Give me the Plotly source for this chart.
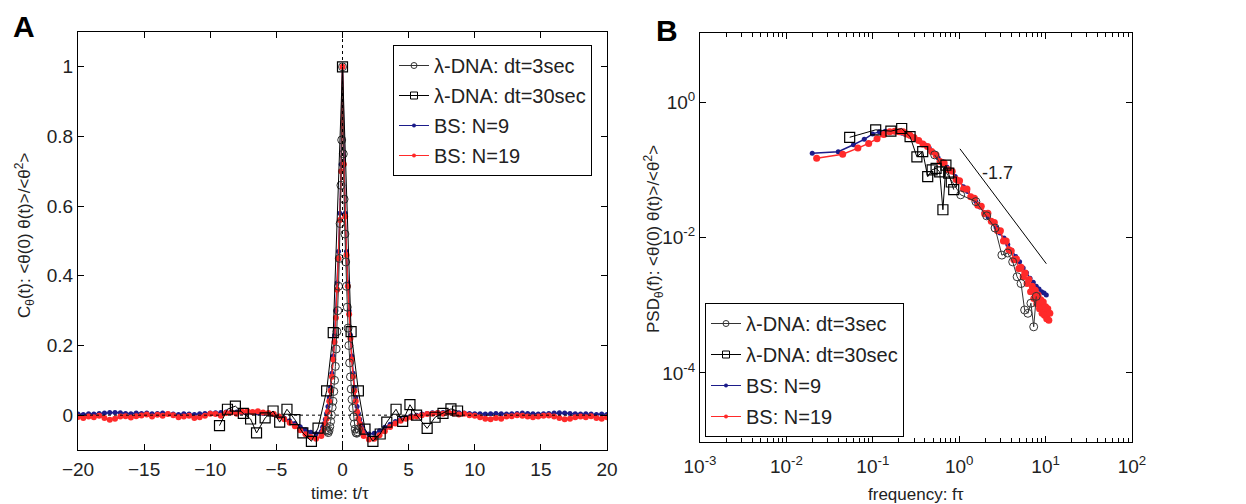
import plotly.graph_objects as go

# ---------------- Panel A data ----------------
t_left = [round(-20.0 + 0.4 * j, 2) for j in range(47)]
t_mid = [round(-1.5 + 0.1 * i, 2) for i in range(31)]
t_right = [round(1.6 + 0.4 * j, 2) for j in range(47)]

red_left = [-0.005,-0.008,-0.004,-0.006,-0.002,-0.008,-0.013,-0.010,-0.004,-0.003,
            -0.007,-0.003,-0.001,0.002,-0.004,0.001,-0.002,0.003,0.000,-0.006,
            -0.004,-0.002,-0.008,-0.006,-0.002,0.004,0.003,-0.002,0.006,0.008,
            0.004,0.010,0.012,0.009,0.011,0.008,0.006,0.003,-0.004,-0.012,
            -0.022,-0.032,-0.043,-0.055,-0.063,-0.068,-0.060]
red_mid = [-0.05,-0.04,-0.025,-0.01,0.01,0.04,0.07,0.11,0.16,0.21,0.28,0.36,0.45,0.56,0.70,
           1.0,
           0.72,0.57,0.46,0.37,0.29,0.22,0.16,0.11,0.07,0.04,0.01,-0.01,-0.025,-0.04,-0.05]
red_right = [-0.060,-0.070,-0.068,-0.058,-0.046,-0.034,-0.024,-0.016,-0.010,-0.006,
             -0.004,0.000,0.003,0.004,0.006,0.004,0.008,0.005,0.002,0.004,
             0.000,-0.002,-0.006,-0.010,-0.012,-0.008,-0.010,-0.004,-0.003,0.000,
             -0.002,-0.004,-0.006,-0.004,-0.002,-0.001,-0.004,-0.008,-0.012,-0.010,
             -0.006,-0.004,-0.006,-0.003,-0.008,-0.010,-0.006]

blue_left = [0.003,0.002,0.004,0.003,0.005,0.006,0.008,0.008,0.007,0.005,
             0.004,0.006,0.005,0.006,0.004,0.005,0.006,0.004,0.003,0.002,
             0.004,0.003,0.002,0.004,0.005,0.006,0.007,0.008,0.009,0.010,
             0.009,0.008,0.008,0.007,0.006,0.005,0.004,0.002,-0.003,-0.009,
             -0.016,-0.024,-0.033,-0.042,-0.049,-0.053,-0.047]
blue_mid = [-0.035,-0.025,-0.012,0.005,0.025,0.05,0.08,0.12,0.17,0.23,0.30,0.38,0.47,0.58,0.72,
            1.0,
            0.72,0.58,0.47,0.38,0.30,0.23,0.17,0.12,0.08,0.05,0.025,0.005,-0.012,-0.025,-0.035]
blue_right = [-0.046,-0.054,-0.052,-0.045,-0.035,-0.026,-0.018,-0.012,-0.006,-0.002,
              0.000,0.003,0.005,0.007,0.008,0.008,0.009,0.008,0.007,0.006,
              0.005,0.004,0.004,0.003,0.004,0.005,0.004,0.003,0.004,0.005,
              0.006,0.005,0.004,0.003,0.004,0.005,0.006,0.007,0.006,0.005,
              0.004,0.003,0.004,0.003,0.002,0.003,0.002]

t_circ = [round(0.06 * i, 2) for i in range(-20, 21)]
circ_corr = [-0.042,-0.046,-0.05,-0.044,-0.033,-0.018,0.0,0.022,0.04,0.068,
             0.10,0.14,0.19,0.24,0.30,0.37,0.45,0.55,0.66,0.79,
             1.0,
             0.75,0.62,0.52,0.44,0.37,0.31,0.25,0.2,0.15,0.11,
             0.075,0.045,0.02,-0.005,-0.025,-0.04,-0.05,-0.052,-0.048,-0.04]

t_sq = [-9.3,-8.7,-8.1,-7.5,-6.95,-6.5,-5.85,-5.25,-4.75,-4.2,-3.6,-3.0,-2.35,-1.85,-1.2,-0.7,
        0.0,
        0.65,1.2,1.7,2.3,2.85,3.35,4.05,4.55,5.1,5.6,6.4,7.0,7.6,8.2,8.7]
sq_corr = [-0.03,0.017,0.026,0.005,-0.011,-0.051,-0.008,0.012,-0.02,0.017,-0.013,-0.051,-0.075,-0.037,0.07,0.237,
           1.0,
           0.24,0.07,-0.04,-0.075,-0.054,-0.02,0.017,-0.018,0.03,0.0,-0.038,-0.006,0.005,0.018,0.012]

# ---------------- Panel B data ----------------
red_freq = [0.0224,0.0448,0.0672,0.0896,0.112,0.134,0.157,0.179,0.202,0.224,0.246,0.269,
            0.30,0.34,0.38,0.43,0.48,0.54,0.60,0.67,0.75,0.83,
            0.92,1.01,1.12,1.23,1.36,1.50,1.64,1.80,1.97,2.15,
            2.35,2.55,2.78,3.0,3.25,3.5,3.75,4.0,4.3,4.6,
            4.9,5.2,5.5,5.8,6.1,6.4,6.7,7.0,7.3,7.6,
            7.9,8.2,8.5,8.8,9.1,9.4,9.7,10.0,10.3,10.6,
            10.9,11.2]
red_psd = [0.148,0.170,0.209,0.245,0.288,0.331,0.363,0.372,0.363,0.363,0.339,0.324,
           0.30,0.27,0.24,0.22,0.186,0.166,0.132,0.126,0.10,0.095,
           0.072,0.069,0.052,0.052,0.040,0.038,0.030,0.029,0.0224,0.0229,
           0.0174,0.0166,0.0126,0.0126,0.0089,0.0089,0.0066,0.0063,0.0047,0.0048,
           0.00347,0.00363,0.00263,0.0030,0.00209,0.0024,0.00158,0.0019,0.00126,0.00166,
           0.00105,0.00141,0.00089,0.0012,0.00076,0.00112,0.00071,0.00095,0.00063,0.00089,
           0.0006,0.00076]

blue_freq = [0.0199,0.0398,0.0597,0.0796,0.0995,0.119,0.139,0.159,0.179,0.199,0.219,0.239,
             0.27,0.31,0.35,0.40,0.45,0.51,0.57,0.64,0.72,0.80,
             0.90,1.00,1.12,1.25,1.40,1.56,1.74,1.94,2.16,2.40,
             2.67,2.97,3.30,3.65,4.05,4.5,5.0,5.5,6.0,6.6,
             7.2,7.8,8.4,9.0,9.6,10.2]
blue_psd = [0.175,0.185,0.234,0.282,0.339,0.363,0.372,0.363,0.363,0.355,0.347,0.331,
            0.316,0.288,0.263,0.234,0.209,0.178,0.151,0.132,0.110,0.0955,
            0.0794,0.0676,0.0562,0.0479,0.0398,0.0339,0.0282,0.0234,0.020,0.017,
            0.0141,0.0117,0.0098,0.0079,0.00646,0.00525,0.00437,0.00355,0.00302,0.00251,
            0.00219,0.00191,0.00174,0.00158,0.00151,0.00141]

circ_freq = [0.52,1.04,1.56,2.08,2.6,3.12,3.64,4.16,4.68,5.2,5.72,6.24,6.76,7.28,7.8]
circ_psd = [0.166,0.0427,0.0339,0.0209,0.0138,0.0055,0.0059,0.00437,0.00263,0.00209,
            0.00085,0.00076,0.00107,0.00048,0.00135]

sq_freq = [0.054,0.108,0.162,0.216,0.27,0.324,0.378,0.432,0.486,0.54,0.594,0.648,0.702,0.756,0.81,0.864]
sq_psd = [0.302,0.389,0.372,0.407,0.309,0.155,0.186,0.079,0.10,0.105,0.0933,0.0257,0.117,0.089,0.066,0.051]

slope_freq = [1.02, 10.2]
slope_psd = [0.204, 0.0041]
slope_label = "-1.7"

names = ["λ-DNA: dt=3sec", "λ-DNA: dt=30sec", "BS: N=9", "BS: N=19"]

FONT = "Liberation Sans, Arial, sans-serif"
TXT = "#222222"
BLUE = "#1c1c8a"
RED = "#ff2a2a"
GRAY = "#333333"

fig = go.Figure()

t_bs = t_left + t_mid + t_right
red_corr = red_left + red_mid + red_right
blue_corr = blue_left + blue_mid + blue_right


def styles(red_size):
    return [
        dict(line=dict(color=GRAY, width=1),
             marker=dict(symbol="circle-open", size=8, color=GRAY, line=dict(width=1))),
        dict(line=dict(color="black", width=1),
             marker=dict(symbol="square-open", size=10, color="black", line=dict(width=1.2))),
        dict(line=dict(color=BLUE, width=1.5), marker=dict(symbol="circle", size=5, color=BLUE)),
        dict(line=dict(color=RED, width=1.5), marker=dict(symbol="circle", size=red_size, color=RED)),
    ]


legend_markers = [
    dict(symbol="circle-open", size=6, color=GRAY, line=dict(width=1)),
    dict(symbol="square-open", size=7, color="black", line=dict(width=1)),
    dict(symbol="circle", size=4, color=BLUE),
    dict(symbol="circle", size=4, color=RED),
]


def add_set(xa, ya, leg, data, red_size):
    st = styles(red_size)
    # draw order: blue, red, circles, squares
    for idx in [2, 3, 0, 1]:
        x, y = data[idx]
        fig.add_trace(go.Scatter(x=x, y=y, mode="lines+markers", name=names[idx],
                                 showlegend=False, xaxis=xa, yaxis=ya, **st[idx]))
    for idx in range(4):
        fig.add_trace(go.Scatter(x=[None], y=[None], mode="lines+markers", name=names[idx],
                                 line=dict(color=st[idx]["line"]["color"], width=1),
                                 marker=legend_markers[idx], xaxis=xa, yaxis=ya,
                                 legend=leg, legendgroup=leg + str(idx)))


add_set("x", "y", "legend",
        [(t_circ, circ_corr), (t_sq, sq_corr), (t_bs, blue_corr), (t_bs, red_corr)], 6)
add_set("x2", "y2", "legend2",
        [(circ_freq, circ_psd), (sq_freq, sq_psd), (blue_freq, blue_psd), (red_freq, red_psd)], 7)

fig.add_trace(go.Scatter(x=slope_freq, y=slope_psd, mode="lines",
                         line=dict(color="black", width=1), showlegend=False,
                         xaxis="x2", yaxis="y2"))

W, H = 1246, 504
OFF = 8  # page body margin of the browser


def px(x):
    return (x - OFF) / W


def py(y):
    return 1 - (y - OFF) / H


axA_x = [px(78), px(607)]
axA_y = [py(450), py(32)]
axB_x = [px(700), px(1132)]
axB_y = [py(442), py(33)]

common = dict(showline=True, linecolor="black", linewidth=1, mirror="ticks",
              ticks="inside", ticklen=6, tickcolor="black", showgrid=False,
              zeroline=False, automargin=False,
              tickfont=dict(family=FONT, size=19, color=TXT))


def ann(text, x, y, size, angle=0, color=TXT):
    return dict(text=text, x=px(x), y=py(y), xref="paper", yref="paper",
                xanchor="center", yanchor="middle", textangle=angle,
                showarrow=False, font=dict(family=FONT, size=size, color=color))


fig.update_layout(
    template="none",
    width=W, height=H,
    margin=dict(l=0, r=0, t=0, b=0, pad=0),
    paper_bgcolor="white", plot_bgcolor="white",
    font=dict(family=FONT, color=TXT),
    xaxis=dict(domain=axA_x, range=[-20, 20], tickvals=[-20, -15, -10, -5, 0, 5, 10, 15, 20],
               anchor="y", ticklabelstandoff=2, **common),
    yaxis=dict(domain=axA_y, range=[-0.1, 1.1], tickvals=[0, 0.2, 0.4, 0.6, 0.8, 1],
               ticktext=["0", "0.2", "0.4", "0.6", "0.8", "1"],
               anchor="x", **common),
    xaxis2=dict(domain=axB_x, type="log", range=[-3, 2],
                tickvals=[1e-3, 1e-2, 1e-1, 1, 10, 100],
                ticktext=["10<sup>-3</sup>", "10<sup>-2</sup>", "10<sup>-1</sup>",
                          "10<sup>0</sup>", "10<sup>1</sup>", "10<sup>2</sup>"],
                minor=dict(ticks="inside", ticklen=4, tickcolor="black", showgrid=False,
                           tickvals=[m * 10 ** e for e in range(-3, 2) for m in range(2, 10)]),
                anchor="y2", ticklabelstandoff=7, **common),
    yaxis2=dict(domain=axB_y, type="log", range=[-5.02, 1.02],
                tickvals=[1e-4, 1e-2, 1],
                ticktext=["10<sup>-4</sup>", "10<sup>-2</sup>", "10<sup>0</sup>"],
                anchor="x2", **common),
    legend=dict(x=px(393), y=py(45), xanchor="left", yanchor="top",
                bgcolor="white", bordercolor="black", borderwidth=1,
                font=dict(family=FONT, size=20, color=TXT),
                traceorder="grouped", tracegroupgap=1),
    legend2=dict(x=px(705), y=py(303), xanchor="left", yanchor="top",
                 bgcolor="white", bordercolor="black", borderwidth=1,
                 font=dict(family=FONT, size=20, color=TXT),
                 traceorder="grouped", tracegroupgap=2),
    shapes=[
        dict(type="line", xref="x", yref="y domain", x0=0, x1=0, y0=0, y1=1,
             line=dict(color="black", width=1, dash="dot")),
        dict(type="line", xref="x domain", yref="y", x0=0, x1=1, y0=0, y1=0,
             line=dict(color="black", width=1, dash="dot")),
    ],
    annotations=[
        ann("<b>A</b>", 24, 27, 30, color="black"),
        ann("<b>B</b>", 667, 31, 30, color="black"),
        ann("time: t/τ", 340, 493, 17),
        ann("C<sub>θ</sub>(t): &lt;θ(0) θ(t)&gt;/&lt;θ<sup>2</sup>&gt;", 25, 236, 17, angle=-90),
        ann("frequency: fτ", 916, 494, 17),
        ann("PSD<sub>θ</sub>(f): &lt;θ(0) θ(t)&gt;/&lt;θ<sup>2</sup>&gt;", 654, 239, 17, angle=-90),
        ann(slope_label, 997, 173, 18),
    ],
)

fig.write_html("out.html")
